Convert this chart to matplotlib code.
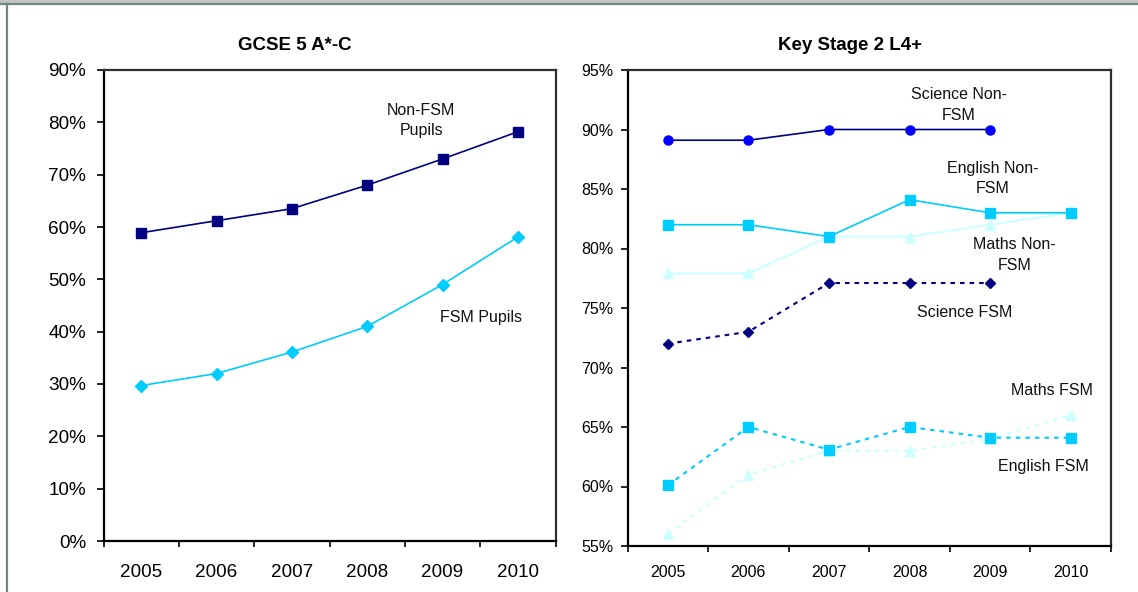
import matplotlib
matplotlib.use("Agg")
import matplotlib.pyplot as plt
from matplotlib.ticker import PercentFormatter, FixedLocator, NullFormatter
from matplotlib.lines import Line2D

plt.rcParams['font.family'] = ['Liberation Sans', 'DejaVu Sans']

# ---------------- data ----------------
years = ["2005", "2006", "2007", "2008", "2009", "2010"]

gcse_nonfsm = [58.9, 61.2, 63.5, 68.0, 73.0, 78.2]
gcse_fsm = [29.7, 32.0, 36.1, 41.0, 49.0, 58.1]

ks2_sci_nonfsm = [89.1, 89.1, 90.0, 90.0, 90.0, None]
ks2_eng_nonfsm = [82.0, 82.0, 81.0, 84.1, 83.0, 83.0]
ks2_mat_nonfsm = [77.9, 77.9, 81.0, 81.0, 82.0, 83.0]
ks2_sci_fsm = [72.0, 73.0, 77.1, 77.1, 77.1, None]
ks2_eng_fsm = [60.1, 65.0, 63.1, 65.0, 64.1, 64.1]
ks2_mat_fsm = [56.0, 61.0, 63.0, 63.0, 64.0, 66.0]

NAVY = "#000080"
BLUE = "#0000FF"
CYAN = "#00CCFF"
LCYAN = "#CCFFFF"

W, H = 1138, 592
fig = plt.figure(figsize=(W / 100, H / 100), dpi=100)


def ax_rect(x0, y0, x1, y1):
    return [x0 / W, 1 - y1 / H, (x1 - x0) / W, (y1 - y0) / H]


def setup(ax, ymin, ymax, step, fs, xpad, ypad):
    n = len(years)
    ax.set_xlim(-0.5, n - 0.5)
    ax.set_ylim(ymin, ymax)
    ax.xaxis.set_major_locator(FixedLocator([i - 0.5 for i in range(n + 1)]))
    ax.xaxis.set_major_formatter(NullFormatter())
    ax.set_xticks(list(range(n)), minor=True)
    ax.set_xticklabels(years, minor=True)
    ax.tick_params(axis='x', which='minor', length=0, labelsize=fs, pad=xpad)
    ax.tick_params(axis='x', which='major', direction='out', length=4.5, width=1.2, color='black')
    ax.set_yticks([ymin + i * step for i in range(int(round((ymax - ymin) / step)) + 1)])
    ax.yaxis.set_major_formatter(PercentFormatter(100, decimals=0))
    ax.tick_params(axis='y', direction='out', length=5, width=1.2, labelsize=fs, pad=ypad)
    for s in ['left', 'bottom']:
        ax.spines[s].set_color('black')
        ax.spines[s].set_linewidth(1.6)
    for s in ['top', 'right']:
        ax.spines[s].set_color('#303030')
        ax.spines[s].set_linewidth(1.6)
    ax.set_facecolor('white')


x = list(range(len(years)))

# ---------------- left panel ----------------
ax1 = fig.add_axes(ax_rect(103.5, 70, 555.5, 541))
setup(ax1, 0, 90, 10, 13.6, 16.5, 7.5)
ax1.plot(x, gcse_nonfsm, color=NAVY, lw=1.2, marker='s', ms=6.5, mfc=NAVY, mec=NAVY)
ax1.plot(x, gcse_fsm, color=CYAN, lw=1.2, marker='D', ms=6, mfc=CYAN, mec=CYAN)
ax1.text(3.72, 80.4, "Non-FSM\nPupils", ha='center', va='center', fontsize=11.5,
         linespacing=1.45, color='#111111')
ax1.text(4.51, 42.8, "FSM Pupils", ha='center', va='center', fontsize=11.5, color='#111111')
fig.text(294.5 / W, 1 - 46 / H, "GCSE 5 A*-C", ha='center', va='center', fontsize=13.5,
         fontweight='bold')

# ---------------- right panel ----------------
ax2 = fig.add_axes(ax_rect(627.5, 70, 1111, 546))
setup(ax2, 55, 95, 5, 11.5, 13.5, 5.3)


def clean(vals):
    return [float('nan') if v is None else v for v in vals]


dash = (0, (2.2, 2.4))
ax2.plot(x, clean(ks2_mat_fsm), color=LCYAN, lw=1.5, ls=dash, marker='^', ms=7.5,
         mfc=LCYAN, mec=LCYAN)
ax2.plot(x, clean(ks2_eng_fsm), color=CYAN, lw=1.5, ls=dash, marker='s', ms=6.5,
         mfc=CYAN, mec=CYAN)
ax2.plot(x, clean(ks2_sci_fsm), color=NAVY, lw=1.5, ls=dash, marker='D', ms=5.5,
         mfc=NAVY, mec=NAVY)
ax2.plot(x, clean(ks2_mat_nonfsm), color=LCYAN, lw=1.5, marker='^', ms=7.5,
         mfc=LCYAN, mec=LCYAN)
ax2.plot(x, clean(ks2_eng_nonfsm), color=CYAN, lw=1.2, marker='s', ms=6.5,
         mfc=CYAN, mec=CYAN)
ax2.plot(x, clean(ks2_sci_nonfsm), color=NAVY, lw=1.2, marker='o', ms=6.5,
         mfc=BLUE, mec=BLUE)

lab = dict(ha='center', va='center', fontsize=11.5, linespacing=1.45, color='#111111')
ax2.text(3.61, 92.06, "Science Non-\nFSM", **lab)
ax2.text(4.03, 85.9, "English Non-\nFSM", **lab)
ax2.text(4.30, 79.45, "Maths Non-\nFSM", **lab)
ax2.text(3.69, 74.66, "Science FSM", **lab)
ax2.text(4.77, 68.1, "Maths FSM", **lab)
ax2.text(4.66, 61.64, "English FSM", **lab)
fig.text(850 / W, 1 - 46 / H, "Key Stage 2 L4+", ha='center', va='center', fontsize=13.5,
         fontweight='bold')

# ---------------- slide frame ----------------
fig.add_artist(Line2D([0, 1], [1 - 1 / H, 1 - 1 / H], transform=fig.transFigure,
                      color='#c0c0c0', lw=2))
fig.add_artist(Line2D([0, 1], [1 - 4 / H, 1 - 4 / H], transform=fig.transFigure,
                      color='#6f8a7c', lw=1.6))
fig.add_artist(Line2D([6.5 / W, 6.5 / W], [0, 1 - 4 / H], transform=fig.transFigure,
                      color='#6f8a7c', lw=1.6))

fig.savefig("out.png", dpi=100, facecolor='white')
